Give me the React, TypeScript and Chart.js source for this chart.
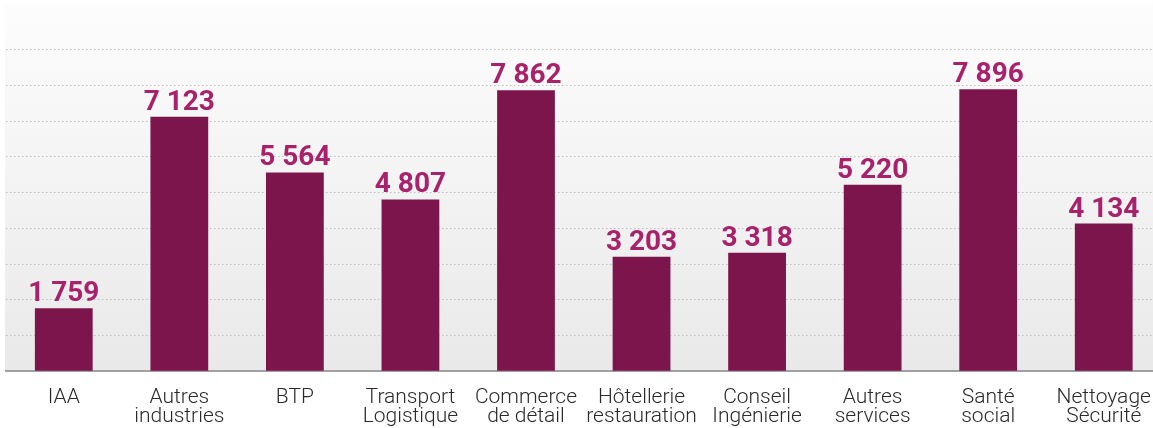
import React, { useEffect, useRef } from "react";
import { Chart, registerables } from "chart.js";

Chart.register(...registerables);

const categories: string[][] = [
  ["IAA"],
  ["Autres", "industries"],
  ["BTP"],
  ["Transport", "Logistique"],
  ["Commerce", "de détail"],
  ["Hôtellerie", "restauration"],
  ["Conseil", "Ingénierie"],
  ["Autres", "services"],
  ["Santé", "social"],
  ["Nettoyage", "Sécurité"],
];

const values: number[] = [1759, 7123, 5564, 4807, 7862, 3203, 3318, 5220, 7896, 4134];

const axisMax = 10000;
const gridStep = 1000;

const BAR_COLOR = "#7d154d";
const LABEL_COLOR = "#a8226b";

function formatValue(v: number): string {
  return String(v).replace(/\B(?=(\d{3})+(?!\d))/g, " ");
}

const backgroundPlugin = {
  id: "bgGradient",
  beforeDraw(chart: any) {
    const { ctx, chartArea } = chart;
    const top = 3;
    const bottom = chartArea.bottom;
    const g = ctx.createLinearGradient(0, top, 0, bottom);
    g.addColorStop(0, "#fdfdfd");
    g.addColorStop(1, "#e9e9e9");
    ctx.save();
    ctx.fillStyle = g;
    ctx.fillRect(5, top, chart.width - 5, bottom - top);
    ctx.restore();
  },
};

const valueLabelPlugin = {
  id: "valueLabels",
  afterDatasetsDraw(chart: any) {
    const { ctx } = chart;
    const meta = chart.getDatasetMeta(0);
    ctx.save();
    ctx.fillStyle = LABEL_COLOR;
    ctx.font = "700 28px Roboto, 'DejaVu Sans', sans-serif";
    ctx.textAlign = "center";
    ctx.textBaseline = "alphabetic";
    meta.data.forEach((bar: any, i: number) => {
      ctx.fillText(formatValue(values[i]), bar.x, bar.y - 7);
    });
    ctx.restore();
  },
};

export default function App() {
  const ref = useRef<HTMLCanvasElement>(null);

  useEffect(() => {
    if (!ref.current) return;
    const chart = new Chart(ref.current, {
      type: "bar",
      data: {
        labels: categories,
        datasets: [
          {
            data: values,
            backgroundColor: BAR_COLOR,
            borderWidth: 0,
            barPercentage: 0.5,
            categoryPercentage: 1,
          },
        ],
      },
      options: {
        responsive: false,
        animation: false,
        layout: { padding: { left: 6, right: 2, top: 14, bottom: 0 } },
        plugins: {
          legend: { display: false },
          tooltip: { enabled: false },
          title: { display: false },
        },
        scales: {
          x: {
            grid: { display: false, drawTicks: false },
            border: { display: true, color: "#a0a0a0", width: 2 },
            ticks: {
              color: "#2a2a2a",
              font: { family: "Roboto", size: 21, weight: "300", lineHeight: 0.9 },
              padding: 17,
              maxRotation: 0,
              autoSkip: false,
            },
          },
          y: {
            min: 0,
            max: axisMax,
            ticks: { display: false, stepSize: gridStep },
            border: { display: false, dash: [1.5, 2.5] },
            grid: {
              drawTicks: false,
              lineWidth: 1,
              color: (c: any) =>
                c.tick && (c.tick.value === 0 || c.tick.value === axisMax) ? "rgba(0,0,0,0)" : "#bdbdbd",
            },
          },
        },
      },
      plugins: [backgroundPlugin, valueLabelPlugin],
    });
    return () => chart.destroy();
  }, []);

  return (
    <div style={{ position: "absolute", left: 0, top: 0, width: 1153, height: 428, overflow: "hidden", background: "#ffffff" }}>
      <canvas ref={ref} width={1168} height={443} style={{ display: "block" }} />
    </div>
  );
}
